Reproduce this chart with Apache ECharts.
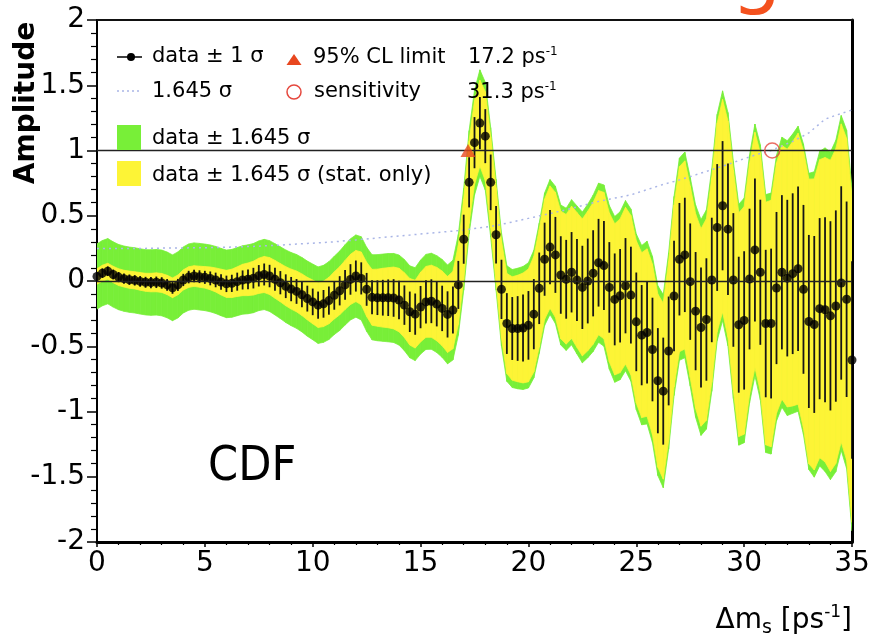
<!DOCTYPE html>
<html>
<head>
<meta charset="utf-8">
<script src="https://cdn.jsdelivr.net/npm/echarts@6/dist/echarts.min.js"></script>
<style>
html, body { margin: 0; padding: 0; background: #fff; }
#chart { width: 869px; height: 644px; }
</style>
</head>
<body>
<div id="chart"></div>
<script>
// scan points, delta m_s in ps^-1
var dm = [
    0, 0.25, 0.5, 0.75, 1, 1.25, 1.5, 1.75, 2, 2.25, 2.5, 2.75, 3, 3.25, 3.5, 3.75, 4, 4.25, 4.5, 4.75,
    5, 5.25, 5.5, 5.75, 6, 6.25, 6.5, 6.75, 7, 7.25, 7.5, 7.75, 8, 8.25, 8.5, 8.75, 9, 9.25, 9.5, 9.75,
    10, 10.25, 10.5, 10.75, 11, 11.25, 11.5, 11.75, 12, 12.25, 12.5, 12.75, 13, 13.25, 13.5, 13.75, 14, 14.25, 14.5, 14.75,
    15, 15.25, 15.5, 15.75, 16, 16.25, 16.5, 16.75, 17, 17.25, 17.5, 17.75, 18, 18.25, 18.5, 18.75, 19, 19.25, 19.5, 19.75,
    20, 20.25, 20.5, 20.75, 21, 21.25, 21.5, 21.75, 22, 22.25, 22.5, 22.75, 23, 23.25, 23.5, 23.75, 24, 24.25, 24.5, 24.75,
    25, 25.25, 25.5, 25.75, 26, 26.25, 26.5, 26.75, 27, 27.25, 27.5, 27.75, 28, 28.25, 28.5, 28.75, 29, 29.25, 29.5, 29.75,
    30, 30.25, 30.5, 30.75, 31, 31.25, 31.5, 31.75, 32, 32.25, 32.5, 32.75, 33, 33.25, 33.5, 33.75, 34, 34.25, 34.5, 34.75,
    35
];
// fitted amplitude
var amp = [
    0.035, 0.06, 0.075, 0.05, 0.03, 0.018, 0.01, 0.005, -0.003, -0.01, -0.012, -0.01, -0.015, -0.03, -0.052, -0.03, 0.008, 0.03, 0.038, 0.033,
    0.028, 0.02, 0.008, -0.008, -0.022, -0.018, -0.005, 0.008, 0.013, 0.022, 0.04, 0.05, 0.038, 0.013, -0.013, -0.04, -0.062, -0.08, -0.105, -0.135,
    -0.16, -0.185, -0.175, -0.15, -0.11, -0.075, -0.03, 0.012, 0.038, 0.02, -0.064, -0.125, -0.128, -0.128, -0.128, -0.13, -0.146, -0.185, -0.236, -0.254,
    -0.2, -0.16, -0.155, -0.177, -0.21, -0.256, -0.223, -0.03, 0.32, 0.756, 1.06, 1.21, 1.11, 0.756, 0.354, -0.064, -0.326, -0.364, -0.364, -0.36,
    -0.34, -0.254, -0.056, 0.167, 0.26, 0.2, 0.046, 0.013, 0.067, 0.008, -0.049, 0.0, 0.059, 0.14, 0.118, -0.049, -0.141, -0.113, -0.036, -0.108,
    -0.313, -0.415, -0.395, -0.525, -0.764, -0.844, -0.536, -0.115, 0.167, 0.2, -0.005, -0.231, -0.356, -0.295, 0.008, 0.41, 0.577, 0.397, 0.008, -0.335,
    -0.302, 0.015, 0.238, 0.067, -0.326, -0.326, -0.054, 0.067, 0.022, 0.056, 0.094, -0.064, -0.31, -0.333, -0.212, -0.22, -0.267, -0.192, -0.015, -0.14,
    -0.605
];
// 1 sigma, statistical only (error bars)
var errStat = [
    0.036, 0.037, 0.037, 0.038, 0.039, 0.039, 0.04, 0.04, 0.041, 0.042, 0.043, 0.044, 0.044, 0.045, 0.046, 0.046, 0.047, 0.048, 0.048, 0.049,
    0.05, 0.053, 0.056, 0.06, 0.063, 0.066, 0.069, 0.073, 0.076, 0.079, 0.082, 0.084, 0.086, 0.088, 0.089, 0.091, 0.093, 0.095, 0.097, 0.099,
    0.102, 0.104, 0.106, 0.108, 0.11, 0.112, 0.114, 0.117, 0.119, 0.123, 0.126, 0.13, 0.133, 0.137, 0.14, 0.144, 0.148, 0.151, 0.155, 0.158,
    0.162, 0.165, 0.168, 0.171, 0.174, 0.177, 0.18, 0.184, 0.188, 0.192, 0.196, 0.2, 0.207, 0.213, 0.22, 0.227, 0.233, 0.241, 0.248, 0.256,
    0.263, 0.269, 0.274, 0.28, 0.285, 0.291, 0.297, 0.302, 0.308, 0.314, 0.319, 0.325, 0.33, 0.336, 0.341, 0.347, 0.352, 0.358, 0.365, 0.371,
    0.378, 0.384, 0.39, 0.397, 0.403, 0.41, 0.417, 0.424, 0.431, 0.438, 0.446, 0.453, 0.46, 0.469, 0.477, 0.486, 0.495, 0.504, 0.512, 0.521,
    0.53, 0.539, 0.548, 0.556, 0.565, 0.574, 0.583, 0.591, 0.6, 0.616, 0.631, 0.647, 0.663, 0.678, 0.694, 0.709, 0.725, 0.733, 0.741, 0.749,
    0.757
];
// 1.645 sigma, total (dotted line)
var sig1645 = [
    0.25, 0.25, 0.25, 0.25, 0.25, 0.25, 0.25, 0.25, 0.25, 0.25, 0.251, 0.251, 0.252, 0.252, 0.252, 0.253, 0.253, 0.254, 0.254, 0.255,
    0.255, 0.256, 0.257, 0.258, 0.259, 0.26, 0.261, 0.262, 0.264, 0.265, 0.267, 0.269, 0.271, 0.273, 0.275, 0.278, 0.28, 0.283, 0.285, 0.288,
    0.29, 0.293, 0.295, 0.298, 0.3, 0.304, 0.308, 0.311, 0.315, 0.319, 0.322, 0.326, 0.33, 0.334, 0.338, 0.341, 0.345, 0.349, 0.352, 0.356,
    0.36, 0.364, 0.368, 0.371, 0.375, 0.379, 0.382, 0.386, 0.39, 0.396, 0.402, 0.408, 0.413, 0.419, 0.425, 0.434, 0.443, 0.452, 0.462, 0.471,
    0.48, 0.489, 0.499, 0.508, 0.517, 0.526, 0.536, 0.545, 0.556, 0.567, 0.578, 0.588, 0.599, 0.61, 0.618, 0.627, 0.635, 0.643, 0.652, 0.66,
    0.673, 0.687, 0.7, 0.713, 0.727, 0.74, 0.752, 0.763, 0.775, 0.788, 0.8, 0.813, 0.827, 0.84, 0.853, 0.867, 0.88, 0.894, 0.908, 0.923,
    0.937, 0.951, 0.965, 0.977, 0.988, 1.0, 1.018, 1.035, 1.053, 1.07, 1.092, 1.113, 1.135, 1.17, 1.205, 1.24, 1.255, 1.27, 1.283, 1.297,
    1.31
];
var limit95 = [[17.2, 1.0]];
var sensitivity = [[31.3, 1.0]];
var refLevels = [0, 1];

var font = '"DejaVu Sans", "Liberation Sans", sans-serif';
var green = "#78ef38";
var yellow = "#fdf436";
var dotColor = "#a9b5e6";
var red = "#e8471f";

// band segments: [x0, lo0, hi0, x1, lo1, hi1]
var greenSeg = [], yellowSeg = [], bars = [], points = [], sens = [];
for (var i = 0; i < dm.length; i++) {
    if (i < dm.length - 1) {
        greenSeg.push([dm[i], amp[i] - sig1645[i], amp[i] + sig1645[i],
            dm[i + 1], amp[i + 1] - sig1645[i + 1], amp[i + 1] + sig1645[i + 1]]);
        yellowSeg.push([dm[i], amp[i] - 1.645 * errStat[i], amp[i] + 1.645 * errStat[i],
            dm[i + 1], amp[i + 1] - 1.645 * errStat[i + 1], amp[i + 1] + 1.645 * errStat[i + 1]]);
    }
    bars.push([dm[i], amp[i] - errStat[i], amp[i] + errStat[i]]);
    points.push([dm[i], amp[i]]);
    sens.push([dm[i], sig1645[i]]);
}

function bandSeries(name, data, color, z) {
    return {
        name: name,
        type: "custom",
        data: data,
        encode: { x: [0, 3], y: [1, 2, 4, 5] },
        silent: true,
        clip: true,
        z: z,
        renderItem: function (params, api) {
            var a = api.coord([api.value(0), api.value(1)]);
            var b = api.coord([api.value(0), api.value(2)]);
            var c = api.coord([api.value(3), api.value(5)]);
            var d = api.coord([api.value(3), api.value(4)]);
            return {
                type: "polygon",
                shape: { points: [a, b, c, d] },
                style: { fill: color, stroke: color, lineWidth: 0.8 }
            };
        }
    };
}

function legendText(x, y, text, extra) {
    var style = { text: text, x: 0, y: 0, font: "21px " + font, fill: "#000", verticalAlign: "middle", align: "left" };
    if (extra) {
        for (var k in extra) style[k] = extra[k];
    }
    return { type: "text", x: x, y: y, style: style, z: 100 };
}

var psRich = {
    m: { fontSize: 21, fontFamily: font, fill: "#000", lineHeight: 24 },
    s: { fontSize: 12, fontFamily: font, fill: "#000", verticalAlign: "top", lineHeight: 24 }
};

var chart = echarts.init(document.getElementById("chart"));
var option = {
    backgroundColor: "#fff",
    animation: false,
    grid: { left: 97, right: 17, top: 20, bottom: 102, containLabel: false, outerBoundsMode: "none" },
    xAxis: [
        {
            type: "value", min: 0, max: 35, interval: 5, position: "bottom",
            axisLine: { show: true, onZero: false, lineStyle: { color: "#000", width: 3 } },
            axisTick: { show: true, inside: false, length: 5, lineStyle: { color: "#000", width: 1.5 } },
            minorTick: { show: true, splitNumber: 5, length: 3, lineStyle: { color: "#000", width: 1.2 } },
            axisLabel: { fontFamily: font, fontSize: 28, color: "#000", margin: 8 },
            splitLine: { show: false }
        },
        {
            type: "value", min: 0, max: 35, position: "top",
            axisLine: { show: true, onZero: false, lineStyle: { color: "#111", width: 2 } },
            axisTick: { show: false }, axisLabel: { show: false }, splitLine: { show: false }
        }
    ],
    yAxis: [
        {
            type: "value", min: -2, max: 2, interval: 0.5, position: "left",
            axisLine: { show: true, onZero: false, lineStyle: { color: "#000", width: 2 } },
            axisTick: { show: true, inside: false, length: 10, lineStyle: { color: "#000", width: 1.5 } },
            minorTick: { show: true, splitNumber: 5, length: 6, lineStyle: { color: "#000", width: 1.2 } },
            axisLabel: { fontFamily: font, fontSize: 28, color: "#000", margin: 12 },
            splitLine: { show: false }
        },
        {
            type: "value", min: -2, max: 2, position: "right",
            axisLine: { show: true, onZero: false, lineStyle: { color: "#000", width: 3 } },
            axisTick: { show: false }, axisLabel: { show: false }, splitLine: { show: false }
        }
    ],
    series: [
        bandSeries("data ± 1.645 σ", greenSeg, green, 1),
        bandSeries("data ± 1.645 σ (stat. only)", yellowSeg, yellow, 1),
        {
            name: "1.645 σ",
            type: "line",
            data: sens,
            showSymbol: false,
            symbol: "none",
            silent: true,
            lineStyle: { color: dotColor, width: 1.5, type: [2, 4] },
            z: 2,
            markLine: {
                silent: true,
                symbol: "none",
                label: { show: false },
                lineStyle: { color: "#222", width: 1.3, type: "solid" },
                data: refLevels.map(function (v) { return { yAxis: v }; })
            }
        },
        {
            name: "errors",
            type: "custom",
            data: bars,
            encode: { x: 0, y: [1, 2] },
            silent: true,
            clip: true,
            z: 3,
            renderItem: function (params, api) {
                var p1 = api.coord([api.value(0), api.value(1)]);
                var p2 = api.coord([api.value(0), api.value(2)]);
                return {
                    type: "line",
                    shape: { x1: p1[0], y1: p1[1], x2: p2[0], y2: p2[1] },
                    style: { stroke: "#161616", lineWidth: 1.8 }
                };
            }
        },
        {
            name: "data ± 1 σ",
            type: "scatter",
            data: points,
            symbol: "circle",
            symbolSize: 9,
            itemStyle: { color: "#000" },
            silent: true,
            z: 4
        },
        {
            name: "95% CL limit",
            type: "scatter",
            data: limit95,
            symbol: "triangle",
            symbolSize: [15, 13],
            itemStyle: { color: red },
            silent: true,
            z: 5
        },
        {
            name: "sensitivity",
            type: "scatter",
            data: sensitivity,
            symbol: "circle",
            symbolSize: 15,
            itemStyle: { color: "rgba(0,0,0,0)", borderColor: "#e5483e", borderWidth: 1.5 },
            silent: true,
            z: 5
        }
    ],
    graphic: [
        // legend
        { type: "line", shape: { x1: 117, y1: 57, x2: 142, y2: 57 }, style: { stroke: "#000", lineWidth: 1.5 }, z: 100 },
        { type: "circle", shape: { cx: 131, cy: 57, r: 4 }, style: { fill: "#000" }, z: 100 },
        legendText(152, 57, "data ± 1 σ"),
        { type: "polygon", shape: { points: [[294, 54], [301.5, 65], [286.5, 65]] }, style: { fill: red }, z: 100 },
        legendText(313, 58, "95% CL limit"),
        legendText(468, 58, "{m|17.2 ps}{s|-1}", { rich: psRich }),
        { type: "line", shape: { x1: 117, y1: 91, x2: 142, y2: 91 }, style: { stroke: dotColor, lineWidth: 1.5, lineDash: [2, 3] }, z: 100 },
        legendText(152, 92, "1.645 σ"),
        { type: "circle", shape: { cx: 294, cy: 92, r: 7 }, style: { fill: "none", stroke: "#e5483e", lineWidth: 1.5 }, z: 100 },
        legendText(314, 92, "sensitivity"),
        legendText(467, 93, "{m|31.3 ps}{s|-1}", { rich: psRich }),
        { type: "rect", shape: { x: 117, y: 125, width: 24, height: 25 }, style: { fill: green }, z: 100 },
        legendText(152, 139, "data ± 1.645 σ"),
        { type: "rect", shape: { x: 117, y: 161, width: 24, height: 25 }, style: { fill: yellow }, z: 100 },
        legendText(152, 176, "data ± 1.645 σ (stat. only)"),
        // axis titles
        {
            type: "text", x: 27, y: 103, rotation: Math.PI / 2,
            style: { text: "Amplitude", font: "bold 28px " + font, fill: "#000", align: "center", verticalAlign: "middle" },
            z: 100
        },
        {
            type: "text", x: 852, y: 621,
            style: {
                text: "{a|Δm}{b|s}{a| [ps}{c|-1}{a|]}",
                align: "right", verticalAlign: "middle",
                rich: {
                    a: { fontSize: 28, fontFamily: font, fill: "#000", lineHeight: 34 },
                    b: { fontSize: 19, fontFamily: font, fill: "#000", verticalAlign: "bottom", lineHeight: 34 },
                    c: { fontSize: 17, fontFamily: font, fill: "#000", verticalAlign: "top", lineHeight: 34 }
                }
            },
            z: 100
        },
        {
            type: "text", x: 208, y: 468,
            style: { text: "CDF", font: '48px "DejaVu Sans Condensed", "DejaVu Sans", sans-serif', fill: "#000", verticalAlign: "middle" },
            z: 100
        },
        {
            type: "text", x: 731, y: 17,
            style: { text: "g", font: "80px " + font, fill: "#f4511e", verticalAlign: "bottom" },
            z: 100
        }
    ]
};
chart.setOption(option);
</script>
</body>
</html>
